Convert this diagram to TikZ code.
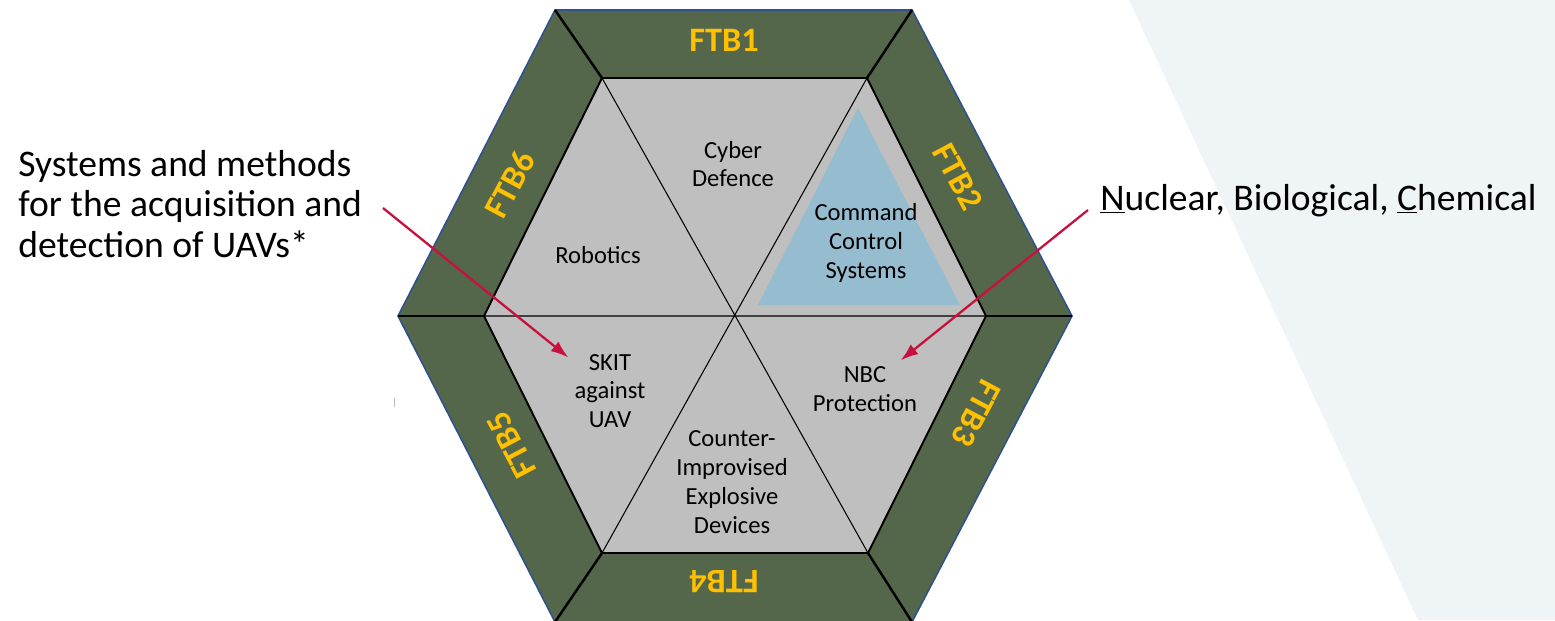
\documentclass[tikz,border=0pt]{standalone}
\usepackage{fontspec}
\setmainfont{Carlito}
\usetikzlibrary{arrows.meta}

\definecolor{ftbgreen}{RGB}{85,103,74}
\definecolor{ftbyellow}{RGB}{255,192,0}
\definecolor{fieldgrey}{RGB}{191,191,191}
\definecolor{ctwoblue}{RGB}{150,188,208}
\definecolor{rimblue}{RGB}{47,82,143}
\definecolor{notered}{RGB}{200,16,62}
\definecolor{panelblue}{RGB}{239,244,247}

\begin{document}
\begin{tikzpicture}[
    x=0.02cm, y=-0.02cm,
    field/.style={align=center, font=\fontsize{14}{16.4}\selectfont},
    ftb/.style={font=\fontsize{19.5}{20}\selectfont\bfseries, text=ftbyellow},
    note/.style={font=\fontsize{21.4}{23}\selectfont, inner sep=0pt},
    arrow/.style={-{Latex[length=10pt,width=7pt]}, line width=1.3pt, draw=notered}
]
\useasboundingbox (0,0) rectangle (1555,620);
\fill[panelblue] (1129,0) -- (1555,0) -- (1555,620) -- (1418,620) -- cycle;

% hexagon corners, outer ring and inner field
\coordinate (oA) at (555,10);
\coordinate (oB) at (912,10);
\coordinate (oC) at (1072,316);
\coordinate (oD) at (912,622);
\coordinate (oE) at (555,622);
\coordinate (oF) at (398,316);
\coordinate (iA) at (602,78);
\coordinate (iB) at (867,78);
\coordinate (iC) at (986,316);
\coordinate (iD) at (868,553);
\coordinate (iE) at (602,553);
\coordinate (iF) at (484,316);

\filldraw[fill=ftbgreen, draw=rimblue, line width=0.9pt] (oA) -- (oB) -- (oC) -- (oD) -- (oE) -- (oF) -- cycle;
\fill[fieldgrey] (iA) -- (iB) -- (iC) -- (iD) -- (iE) -- (iF) -- cycle;
\fill[ctwoblue] (858,108) -- (960,305) -- (758,305) -- cycle;
\draw[line width=0.6pt] (iA) -- (iD) (iB) -- (iE) (iF) -- (iC);
\draw[line width=1.1pt] (iA) -- (iB) -- (iC) -- (iD) -- (iE) -- (iF) -- cycle;
\foreach \k in {A,B,C,D,E,F}
    \draw[line width=1.4pt] (o\k) -- (i\k);

\foreach \n/\px/\py/\ang in {1/724/40/0, 2/958/177/-62, 3/976/413/-118, 4/724/582/180, 5/512/445/118, 6/510/184/62}
    \node[ftb, rotate=\ang] (ftb\n) at (\px,\py) {FTB\n};

\node[field] (cyber) at (733,164) {Cyber\\Defence};
\node[field] (robotics) at (598,255) {Robotics};
\node[field] (ctwo) at (866,243) {Command\\Control\\Systems};
\node[field] (skit) at (610,391) {SKIT\\against\\UAV};
\node[field] (nbc) at (865,389) {NBC\\Protection};
\node[field] (cied) at (732,482) {Counter-\\Improvised\\Explosive\\Devices};

\node[note, align=left, anchor=west] (uavnote) at (18,204) {Systems and methods\\for the acquisition and\\detection of UAVs*};
\node[note, anchor=base west] (nbcnote) at (1100,210) {\underline{N}uclear, Biological, \underline{C}hemical};

\coordinate (uavtail) at (383,208);
\coordinate (nbctail) at (1088,210);
\draw[arrow] (uavtail) -- (skit);
\draw[arrow] (nbctail) -- (nbc);

\draw[black!25, line width=0.5pt] (394,398) -- (394,407);
\end{tikzpicture}
\end{document}
